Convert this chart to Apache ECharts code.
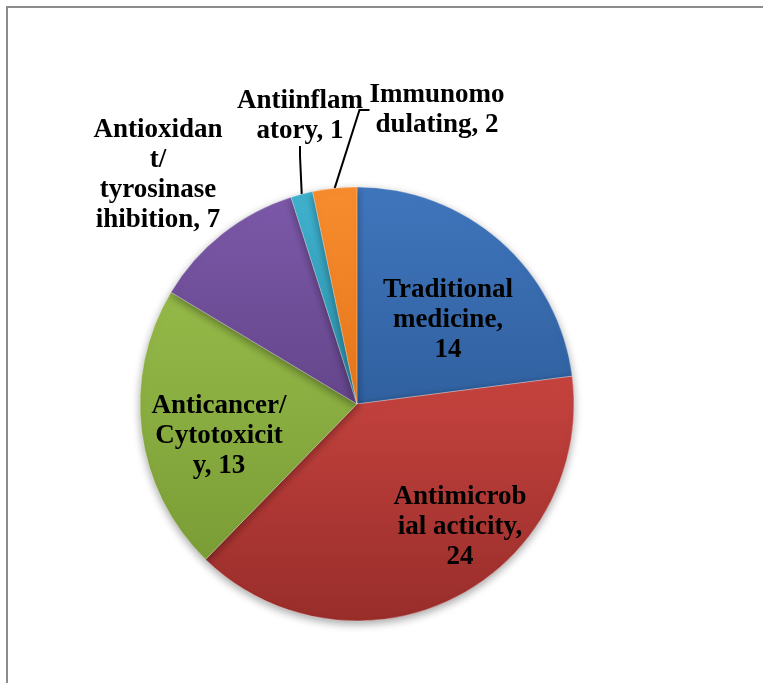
<!DOCTYPE html>
<html>
<head>
<meta charset="utf-8">
<script src="https://cdn.jsdelivr.net/npm/echarts@6/dist/echarts.min.js"></script>
<style>
  html, body { margin: 0; padding: 0; background: #fff; }
  #pie { width: 763px; height: 683px; }
</style>
</head>
<body>
<div id="pie"></div>
<script>
// data
var categories = ['Traditional medicine', 'Antimicrobial acticity', 'Anticancer/Cytotoxicity',
    'Antioxidant/tyrosinase ihibition', 'Antiinflamatory', 'Immunomodulating'];
var counts = [14, 24, 13, 7, 1, 2];
// wrapped label text, as it appears in the chart
var labelLines = [
    'Traditional\nmedicine,\n14',
    'Antimicrob\nial acticity,\n24',
    'Anticancer/\nCytotoxicit\ny, 13',
    'Antioxidan\nt/\ntyrosinase\nihibition, 7',
    'Antiinflam\natory, 1',
    'Immunomo\ndulating, 2'
];

// colours: [light, dark]
var colorList = [
    ['#4076bd', '#30609f'],
    ['#c6433f', '#982d2a'],
    ['#95b948', '#7a9e36'],
    ['#7c59a9', '#64458a'],
    ['#40b2ce', '#2b90ab'],
    ['#f78d2e', '#e6761a']
];
// label centres
var labelPos = [[448, 320], [460, 527], [219, 436], [158, 175], [300, 116], [437, 110]];
var outsideIdx = [3, 4, 5];

var myPie = echarts.init(document.getElementById('pie'));

var pieData = categories.map(function (name, i) {
    var outside = outsideIdx.indexOf(i) >= 0;
    return {
        name: name,
        value: counts[i],
        itemStyle: {
            color: new echarts.graphic.LinearGradient(0, 0, 0, 1, [
                {offset: 0, color: colorList[i][0]},
                {offset: 1, color: colorList[i][1]}
            ])
        },
        label: {position: outside ? 'outside' : 'inside'},
        labelLine: {show: i === 4 || i === 5}
    };
});

var option = {
    backgroundColor: '#fff',
    animation: false,
    graphic: [{
        type: 'rect',
        shape: {x: 7, y: 7, width: 820, height: 720},
        style: {fill: 'none', stroke: '#8c8c8c', lineWidth: 2}
    }],
    series: [{
        type: 'pie',
        center: [357, 404],
        radius: 217,
        startAngle: 90,
        clockwise: true,
        avoidLabelOverlap: false,
        data: pieData,
        itemStyle: {
            borderColor: 'rgba(255,255,255,0.3)',
            borderWidth: 1,
            shadowBlur: 8,
            shadowOffsetY: 3,
            shadowColor: 'rgba(0,0,0,0.35)'
        },
        label: {
            show: true,
            fontFamily: '"Liberation Serif", "Times New Roman", serif',
            fontWeight: 'bold',
            fontSize: 27,
            lineHeight: 30,
            color: '#000',
            align: 'center',
            formatter: function (p) {
                return labelLines[p.dataIndex];
            }
        },
        labelLine: {
            lineStyle: {color: '#000', width: 2},
            length: 20,
            length2: 10
        },
        labelLayout: function (p) {
            var pos = labelPos[p.dataIndex];
            return {x: pos[0], y: pos[1], align: 'center', verticalAlign: 'middle'};
        }
    }]
};
myPie.setOption(option);
</script>
</body>
</html>
